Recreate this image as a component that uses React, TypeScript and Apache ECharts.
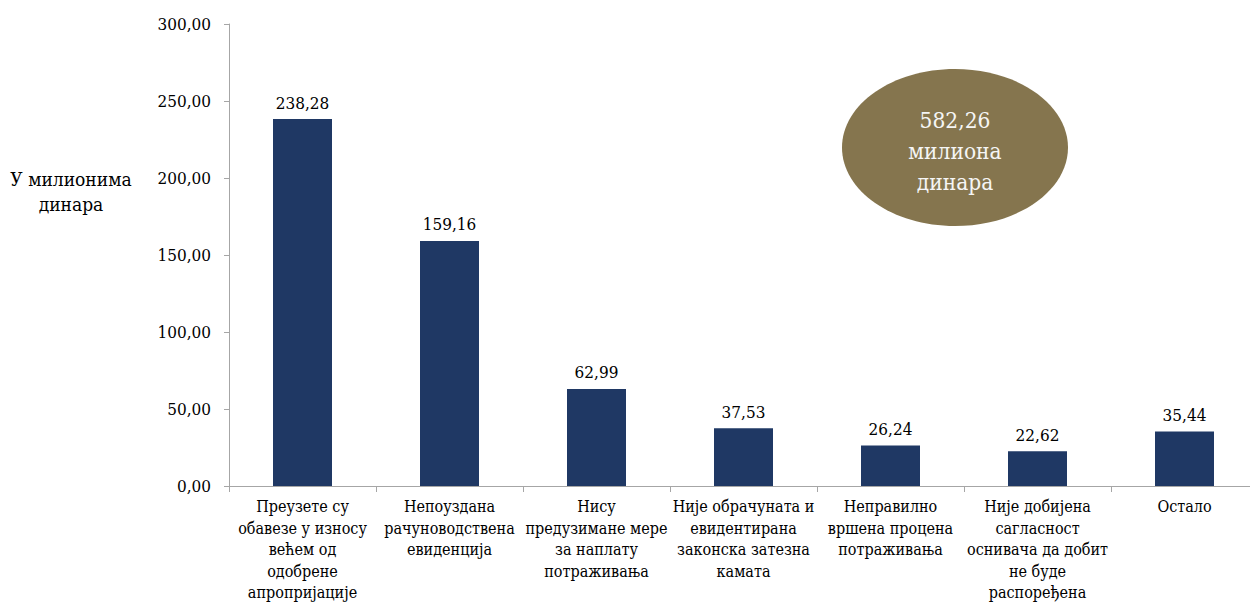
import React, { useEffect, useRef } from "react";
import * as echarts from "echarts";

const categories: string[] = [
  "Преузете су\nобавезе у износу\nвећем од\nодобрене\nапропријације",
  "Непоуздана\nрачуноводствена\nевиденција",
  "Нису\nпредузимане мере\nза наплату\nпотраживања",
  "Није обрачуната и\nевидентирана\nзаконска затезна\nкамата",
  "Неправилно\nвршена процена\nпотраживања",
  "Није добијена\nсагласност\nоснивача да добит\nне буде\nраспоређена",
  "Остало",
];
const values: number[] = [238.28, 159.16, 62.99, 37.53, 26.24, 22.62, 35.44];
const yTicks = { min: 0, max: 300, interval: 50 };
const yAxisName = "У милионима\nдинара";
const totalText = "582,26\nмилиона\nдинара";

const FONT = "DejaVu Serif Condensed, DejaVu Serif";
const fmt = (v: number) => v.toFixed(2).replace(".", ",");

export default function App() {
  const ref = useRef<HTMLDivElement>(null);
  useEffect(() => {
    if (!ref.current) return;
    const chart = echarts.init(ref.current, undefined, { renderer: "svg" });
    chart.setOption({
      animation: false,
      backgroundColor: "#ffffff",
      textStyle: { fontFamily: FONT },
      grid: {
        left: 229,
        top: 24,
        height: 462,
        width: 1029,
        containLabel: false,
        outerBoundsMode: "none",
      },
      xAxis: {
        type: "category",
        data: categories,
        axisLine: { show: true, lineStyle: { color: "#A6A6A6", width: 1 } },
        axisTick: { show: true, alignWithLabel: false, length: 6, lineStyle: { color: "#A6A6A6" } },
        axisLabel: {
          interval: 0,
          margin: 10,
          color: "#000",
          fontFamily: FONT,
          fontSize: 16,
          lineHeight: 21.5,
          align: "center",
        },
      },
      yAxis: {
        type: "value",
        min: yTicks.min,
        max: yTicks.max,
        interval: yTicks.interval,
        splitLine: { show: false },
        axisLine: { show: true, lineStyle: { color: "#A6A6A6", width: 1 } },
        axisTick: { show: true, length: 5, lineStyle: { color: "#A6A6A6" } },
        axisLabel: {
          color: "#000",
          fontFamily: FONT,
          fontSize: 17,
          margin: 18,
          formatter: (v: number) => fmt(v),
        },
      },
      series: [
        {
          type: "bar",
          data: values,
          barWidth: 59,
          itemStyle: { color: "#1F3864" },
          label: {
            show: true,
            position: "top",
            distance: 8,
            color: "#000",
            fontFamily: FONT,
            fontSize: 17,
            formatter: (p: any) => fmt(p.value),
          },
        },
      ],
      graphic: [
        {
          type: "text",
          x: 71,
          y: 191,
          style: {
            text: yAxisName,
            fontFamily: FONT,
            fontSize: 19,
            fill: "#000",
            align: "center",
            verticalAlign: "middle",
            lineHeight: 25,
          },
        },
        {
          type: "ellipse",
          shape: { cx: 955, cy: 147.5, rx: 113, ry: 78.5 },
          style: { fill: "#85754E" },
          z: 10,
        },
        {
          type: "text",
          x: 955,
          y: 151,
          z: 11,
          style: {
            text: totalText,
            fontFamily: FONT,
            fontSize: 22.5,
            fill: "#F5F5F5",
            align: "center",
            verticalAlign: "middle",
            lineHeight: 31,
          },
        },
      ],
    });
    return () => chart.dispose();
  }, []);
  return (
    <div
      ref={ref}
      style={{ position: "fixed", left: 0, top: 0, width: 1250, height: 604 }}
    />
  );
}
